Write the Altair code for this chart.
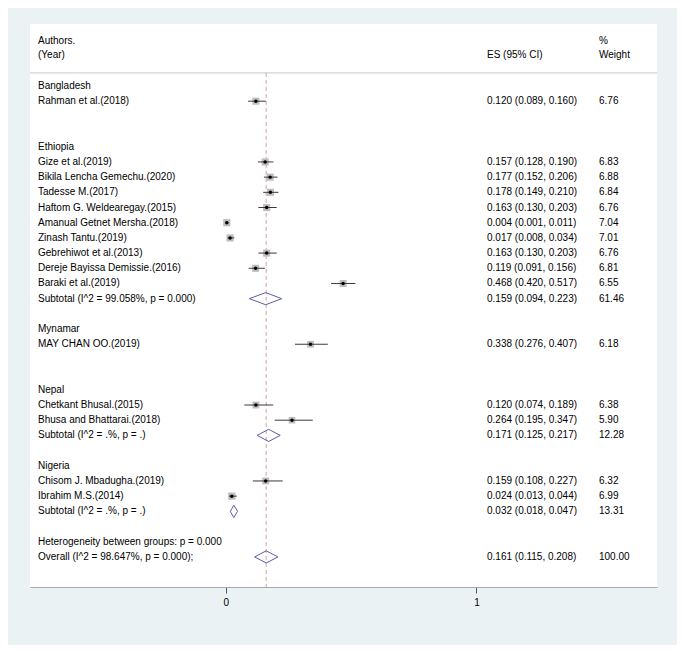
import altair as alt
import pandas as pd

# ---------------- data ----------------
study_names = [
    "Rahman et al.(2018)",
    "Gize et al.(2019)",
    "Bikila Lencha Gemechu.(2020)",
    "Tadesse M.(2017)",
    "Haftom G. Weldearegay.(2015)",
    "Amanual Getnet Mersha.(2018)",
    "Zinash Tantu.(2019)",
    "Gebrehiwot et al.(2013)",
    "Dereje Bayissa Demissie.(2016)",
    "Baraki et al.(2019)",
    "MAY CHAN OO.(2019)",
    "Chetkant Bhusal.(2015)",
    "Bhusa and Bhattarai.(2018)",
    "Chisom J. Mbadugha.(2019)",
    "Ibrahim M.S.(2014)",
]
study_es = [0.120, 0.157, 0.177, 0.178, 0.163, 0.004, 0.017, 0.163, 0.119, 0.468,
            0.338, 0.120, 0.264, 0.159, 0.024]
study_lo = [0.089, 0.128, 0.152, 0.149, 0.130, 0.001, 0.008, 0.130, 0.091, 0.420,
            0.276, 0.074, 0.195, 0.108, 0.013]
study_hi = [0.160, 0.190, 0.206, 0.210, 0.203, 0.011, 0.034, 0.203, 0.156, 0.517,
            0.407, 0.189, 0.347, 0.227, 0.044]
study_wt = [6.76, 6.83, 6.88, 6.84, 6.76, 7.04, 7.01, 6.76, 6.81, 6.55,
            6.18, 6.38, 5.90, 6.32, 6.99]
study_row = [1, 5, 6, 7, 8, 9, 10, 11, 12, 13, 17, 21, 22, 26, 27]

group_names = ["Bangladesh", "Ethiopia", "Mynamar", "Nepal", "Nigeria"]
group_row = [0, 4, 16, 20, 25]

pool_labels = [
    "Subtotal  (I^2 = 99.058%, p = 0.000)",
    "Subtotal  (I^2 = .%, p = .)",
    "Subtotal  (I^2 = .%, p = .)",
    "Overall  (I^2 = 98.647%, p = 0.000);",
]
pool_es = [0.159, 0.171, 0.032, 0.161]
pool_lo = [0.094, 0.125, 0.018, 0.115]
pool_hi = [0.223, 0.217, 0.047, 0.208]
pool_wt = [61.46, 12.28, 13.31, 100.00]
pool_row = [14, 23, 28, 31]

het_label = "Heterogeneity between groups: p = 0.000"
het_row = 30

header_left = ["Authors.", "(Year)"]
header_es = ["", "ES (95% CI)"]
header_wt = ["%", "Weight"]
header_row = [-2.93, -2.03]
divider_row = -0.86

overall_es = 0.161

# ---------------- layout / style ----------------
W, H = 627, 563
X_DOM = [-0.781, 1.720]
Y_DOM = [-4.08, 32.98]
FONT = "Liberation Sans"
FS = 10
X_LABEL, X_ES, X_WT = 8, 457, 569

xs = alt.Scale(domain=X_DOM, nice=False, zero=False)
ys = alt.Scale(domain=Y_DOM, nice=False, zero=False, reverse=True)
xaxis = alt.Axis(values=[0, 1], format="d", grid=False, domainColor="#A8A8A8",
                 tickColor="#555555", tickSize=6, labelFontSize=FS, labelFont=FONT,
                 labelColor="black", labelPadding=4, labelFlush=False, title=None)


def X(f):
    return alt.X(f, type="quantitative", scale=xs, axis=xaxis, title=None)


def Y(f):
    return alt.Y(f, type="quantitative", scale=ys, axis=None, title=None)


studies = pd.DataFrame({
    "name": study_names, "es": study_es, "lo": study_lo, "hi": study_hi,
    "wt": study_wt, "row": study_row,
})
studies["es_txt"] = [f"{e:.3f} ({l:.3f}, {h:.3f})" for e, l, h in zip(study_es, study_lo, study_hi)]
studies["wt_txt"] = [f"{w:.2f}" for w in study_wt]

pools = pd.DataFrame({
    "name": pool_labels, "es": pool_es, "lo": pool_lo, "hi": pool_hi,
    "wt": pool_wt, "row": pool_row,
})
pools["es_txt"] = [f"{e:.3f} ({l:.3f}, {h:.3f})" for e, l, h in zip(pool_es, pool_lo, pool_hi)]
pools["wt_txt"] = [f"{w:.2f}" for w in pool_wt]

# diamond vertices
half_h = 0.4
drows = []
for i, (e, l, h, r) in enumerate(zip(pool_es, pool_lo, pool_hi, pool_row)):
    pts = [(l, r), (e, r - half_h), (h, r), (e, r + half_h), (l, r)]
    for k, (px, py) in enumerate(pts):
        drows.append({"id": i, "seq": k, "x": px, "y": py})
diamonds = pd.DataFrame(drows)

groups = pd.DataFrame({"name": group_names, "row": group_row})
het = pd.DataFrame({"name": [het_label], "row": [het_row]})
header = pd.DataFrame({"left": header_left, "es": header_es, "wt": header_wt, "row": header_row})
divider = pd.DataFrame({"row": [divider_row]})
ref = pd.DataFrame({"es": [overall_es], "y1": [divider_row], "y2": [Y_DOM[1]]})

text_kw = dict(font=FONT, fontSize=FS, color="black", align="left", baseline="middle")

divider_layer = alt.Chart(divider).mark_rule(color="#C8C8C8", strokeWidth=1).encode(
    y=Y("row"), x=alt.value(0), x2=alt.value(W))

ref_layer = alt.Chart(ref).mark_rule(color="#D4A0A0", strokeWidth=1, strokeDash=[4, 3]).encode(
    x=X("es"), y=Y("y1"), y2="y2")

box_layer = alt.Chart(studies).mark_square(color="#BDBDBD", opacity=1).encode(
    x=X("es"), y=Y("row"),
    size=alt.Size("wt:Q", scale=alt.Scale(domain=[0, 7.04], range=[0, 52]), legend=None))

ci_layer = alt.Chart(studies).mark_rule(color="#3A3A3A", strokeWidth=1).encode(
    x=X("lo"), x2="hi", y=Y("row"))

dot_layer = alt.Chart(studies).mark_point(filled=True, shape="circle", size=12,
                                          color="black", opacity=1).encode(
    x=X("es"), y=Y("row"))

diamond_layer = alt.Chart(diamonds).mark_line(color="#5B5EA6", strokeWidth=1).encode(
    x=X("x"), y=Y("y"), detail="id:N", order="seq:Q")

study_txt = alt.Chart(studies).mark_text(**text_kw).encode(
    x=alt.value(X_LABEL), y=Y("row"), text="name:N")
study_es_txt = alt.Chart(studies).mark_text(**text_kw).encode(
    x=alt.value(X_ES), y=Y("row"), text="es_txt:N")
study_wt_txt = alt.Chart(studies).mark_text(**text_kw).encode(
    x=alt.value(X_WT), y=Y("row"), text="wt_txt:N")

pool_txt = alt.Chart(pools).mark_text(**text_kw).encode(
    x=alt.value(X_LABEL), y=Y("row"), text="name:N")
pool_es_txt = alt.Chart(pools).mark_text(**text_kw).encode(
    x=alt.value(X_ES), y=Y("row"), text="es_txt:N")
pool_wt_txt = alt.Chart(pools).mark_text(**text_kw).encode(
    x=alt.value(X_WT), y=Y("row"), text="wt_txt:N")

group_txt = alt.Chart(groups).mark_text(**text_kw).encode(
    x=alt.value(X_LABEL), y=Y("row"), text="name:N")
het_txt = alt.Chart(het).mark_text(**text_kw).encode(
    x=alt.value(X_LABEL), y=Y("row"), text="name:N")

hdr_left = alt.Chart(header).mark_text(**text_kw).encode(
    x=alt.value(X_LABEL), y=Y("row"), text="left:N")
hdr_es = alt.Chart(header).mark_text(**text_kw).encode(
    x=alt.value(X_ES), y=Y("row"), text="es:N")
hdr_wt = alt.Chart(header).mark_text(**text_kw).encode(
    x=alt.value(X_WT), y=Y("row"), text="wt:N")

chart = alt.layer(
    divider_layer, ref_layer, box_layer, ci_layer, dot_layer, diamond_layer,
    study_txt, study_es_txt, study_wt_txt, pool_txt, pool_es_txt, pool_wt_txt,
    group_txt, het_txt, hdr_left, hdr_es, hdr_wt,
).properties(
    width=W, height=H,
    autosize=alt.AutoSizeParams(type="none"),
    padding={"left": 22, "top": 16, "right": 20, "bottom": 58},
    background="#EAF2F3",
).configure_view(fill="white", stroke=None)

chart.save("out.html", embed_options={"renderer": "svg", "actions": False})
